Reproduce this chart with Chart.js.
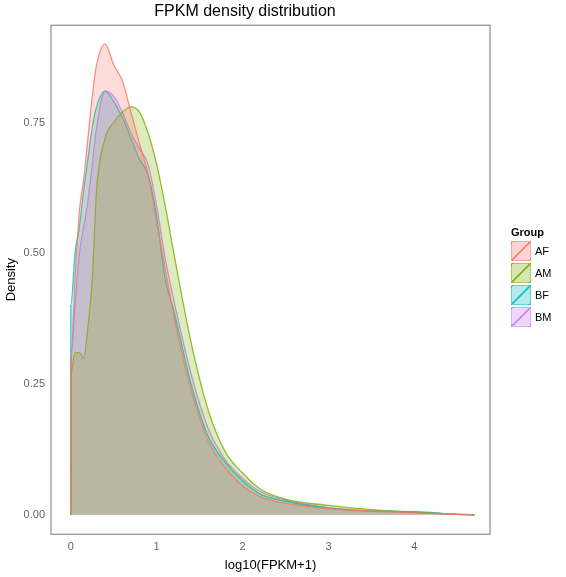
<!DOCTYPE html>
<html><head><script src="https://cdn.jsdelivr.net/npm/chart.js@4"></script>
<style>body{margin:0;background:#fff;font-family:"Liberation Sans",Arial,sans-serif}
#wrap{position:relative;width:566px;height:577px}
#leg{position:absolute;left:511px;top:226px;font-size:11px;color:#000}
.it{display:flex;align-items:center;height:22px}
.bx{width:20px;height:20px;margin-right:4px;box-sizing:border-box;border:1px solid}
</style></head><body><div id="wrap"><canvas id="c" width="566" height="577"></canvas>
<div id="leg"><div style="font-weight:bold;margin-bottom:2px">Group</div></div></div>
<script>
const groups=["AF","AM","BF","BM"];
const colors=["#F8766D","#7CAE00","#00BFC4","#C77CFF"];
const xs=[0,0.05,0.1,0.15,0.2,0.25,0.3,0.4,0.5,0.6,0.7,0.8,0.9,1.0,1.1,1.2,1.4,1.6,1.8,2.0,2.2,2.5,3.0,3.5,4.0,4.5,4.7];
const AF=[0.3,0.45,0.58,0.64,0.72,0.8,0.86,0.9,0.86,0.83,0.77,0.71,0.65,0.56,0.47,0.38,0.24,0.14,0.09,0.055,0.035,0.022,0.012,0.007,0.004,0.001,0];
const AM=[0.27,0.31,0.31,0.3,0.36,0.45,0.62,0.72,0.75,0.77,0.78,0.77,0.73,0.67,0.59,0.5,0.33,0.2,0.12,0.08,0.05,0.03,0.018,0.01,0.005,0.001,0];
const BF=[0.4,0.5,0.55,0.62,0.68,0.74,0.78,0.81,0.79,0.76,0.72,0.68,0.65,0.57,0.45,0.39,0.25,0.15,0.1,0.065,0.04,0.026,0.013,0.007,0.006,0.001,0];
const BM=[0.3,0.4,0.5,0.55,0.6,0.67,0.74,0.81,0.8,0.77,0.73,0.7,0.67,0.59,0.49,0.41,0.27,0.165,0.105,0.07,0.045,0.028,0.014,0.008,0.005,0.001,0];
const series=[AF,AM,BF,BM];
const xTicks=[0,1,2,3,4], yTicks=[0,0.25,0.5,0.75];
function hexA(h,a){const n=parseInt(h.slice(1),16);return `rgba(${n>>16},${(n>>8)&255},${n&255},${a})`;}
const datasets=groups.map((g,i)=>({label:g,data:[{x:0,y:0},...xs.map((x,j)=>({x,y:series[i][j]}))],
 borderColor:hexA(colors[i],0.8),backgroundColor:hexA(colors[i],0.25),fill:'origin',borderWidth:1.3,pointRadius:0,
 cubicInterpolationMode:'monotone'}));
const leg=document.getElementById('leg');
groups.forEach((g,i)=>{const d=document.createElement('div');d.className='it';
 d.innerHTML=`<div class="bx" style="border-color:${hexA(colors[i],0.5)};background:linear-gradient(to bottom right,${hexA(colors[i],0.3)} 46%,${colors[i]} 48%,${colors[i]} 52%,${hexA(colors[i],0.3)} 54%)"></div>${g}`;leg.appendChild(d);});
const border={id:'bd',afterDraw(c){const a=c.chartArea,x=c.ctx;x.save();x.strokeStyle='#777';x.lineWidth=1;x.strokeRect(a.left,a.top,a.right-a.left,a.bottom-a.top);x.restore();}};
new Chart(document.getElementById('c'),{type:'line',data:{datasets},plugins:[border],
options:{responsive:false,animation:false,layout:{padding:{top:0,right:76,left:0,bottom:0}},
plugins:{legend:{display:false},title:{display:true,text:'FPKM density distribution',color:'#000',font:{size:16,weight:'normal',family:'Liberation Sans'},padding:{top:2,bottom:4}}},
scales:{x:{type:'linear',min:-0.23,max:4.88,afterBuildTicks(s){s.ticks=xTicks.map(v=>({value:v}));},
 grid:{display:false,drawTicks:true,tickLength:4,tickColor:'#777'},border:{display:false},
 ticks:{color:'#666',font:{size:11},padding:2},title:{display:true,text:'log10(FPKM+1)',color:'#000',font:{size:13},padding:{top:2}}},
 y:{min:-0.037,max:0.936,afterBuildTicks(s){s.ticks=yTicks.map(v=>({value:v}));},
 grid:{display:false,drawTicks:true,tickLength:4,tickColor:'#777'},border:{display:false},
 ticks:{color:'#666',font:{size:11},padding:2,callback:v=>v.toFixed(2)},title:{display:true,text:'Density',color:'#000',font:{size:13},padding:{bottom:2}}}}}});
</script></body></html>
